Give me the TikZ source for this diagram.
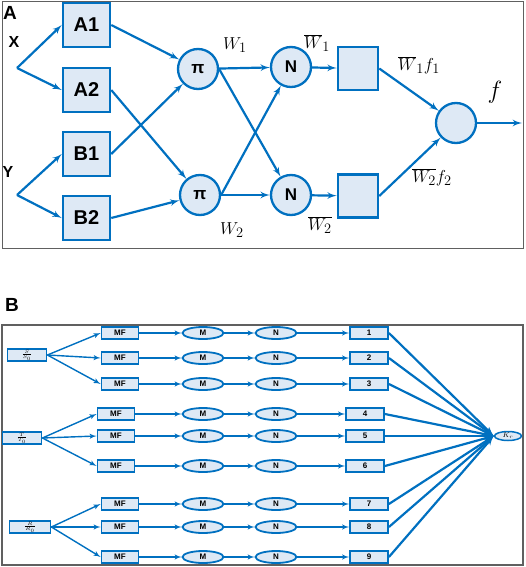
\documentclass[tikz,border=0pt]{standalone}
\usepackage{fontspec}
\setmainfont{Liberation Sans}
\usetikzlibrary{shapes,arrows}
\usetikzlibrary{positioning}
\definecolor{netblue}{RGB}{0,112,192}
\definecolor{cellfill}{RGB}{222,233,245}
\definecolor{framegray}{RGB}{96,96,96}
\tikzset{>=latex', minimum size=0pt, font=\fontsize{11}{11}\selectfont}
\tikzstyle{frame} = [draw=framegray, line width=1pt]
\tikzstyle{tag} = [inner sep=0pt, font=\fontsize{19}{19}\selectfont\bfseries]
\tikzstyle{var} = [inner sep=0pt, font=\fontsize{16}{16}\selectfont\bfseries]
\tikzstyle{block} = [draw=netblue, fill=cellfill, rectangle, line width=2.5pt, minimum width=47pt, minimum height=44pt, font=\fontsize{20}{20}\selectfont\bfseries]
\tikzstyle{prod} = [draw=netblue, fill=cellfill, circle, line width=2.3pt, minimum size=40pt, inner sep=0pt, font=\fontsize{17}{17}\selectfont\bfseries]
\tikzstyle{cons} = [draw=netblue, fill=cellfill, rectangle, line width=2.5pt, minimum width=40pt, minimum height=43pt]
\tikzstyle{weight} = [inner sep=0pt, font=\fontsize{19}{19}\selectfont]
\tikzstyle{link} = [draw=netblue, line width=2.2pt]
\tikzstyle{input} = [coordinate]
\tikzstyle{output} = [coordinate]
\tikzstyle{ratio} = [draw=netblue, fill=cellfill, rectangle, line width=1.8pt, minimum width=39pt, minimum height=12pt, inner sep=0pt, font=\fontsize{7}{7}\selectfont]
\tikzstyle{mf} = [draw=netblue, fill=cellfill, rectangle, line width=1.8pt, minimum width=37pt, minimum height=12pt, inner sep=0pt, font=\fontsize{8}{8}\selectfont\bfseries]
\tikzstyle{memb} = [draw=netblue, fill=cellfill, ellipse, line width=1.8pt, minimum width=41pt, minimum height=12pt, inner sep=0pt, font=\fontsize{8}{8}\selectfont\bfseries]
\tikzstyle{rule} = [draw=netblue, fill=cellfill, rectangle, line width=1.8pt, minimum width=38pt, minimum height=12pt, inner sep=0pt, font=\fontsize{8}{8}\selectfont\bfseries]
\tikzstyle{thin} = [draw=netblue, line width=1.4pt]

\begin{document}
\begin{tikzpicture}[x=1pt, y=-1pt]
    \useasboundingbox (0,0) rectangle (526,567);
    \draw [frame] (2,2) rectangle (523,248);
    \node [tag] (lab_a) at (10,13) {A};
    \node [var] (lab_x) at (14,42) {X};
    \node [var] (lab_y) at (8,172) {Y};
    \node [input] (x_in) at (17,68) {};
    \node [input] (y_in) at (17,195) {};
    \node [block] (a1) at (86.5,25) {A1};
    \node [block] (a2) at (86.5,90) {A2};
    \node [block] (b1) at (86.5,154) {B1};
    \node [block] (b2) at (86.5,218) {B2};
    \node [prod] (pi1) at (198,69) {π};
    \node [prod] (pi2) at (200,195) {π};
    \node [prod] (n1) at (291,67) {N};
    \node [prod] (n2) at (291,195) {N};
    \node [cons] (sq1) at (358,68.5) {};
    \node [cons] (sq2) at (358,196) {};
    \node [prod] (sum_f) at (456,123) {};
    \node [output] (f_out) at (522,123) {};
    \node [weight] (w1) at (235,45) {$W_1$};
    \node [weight] (w2) at (232,230) {$W_2$};
    \node [weight] (wn1) at (317,43) {$\overline{W}_1$};
    \node [weight] (wn2) at (320,225) {$\overline{W_2}$};
    \node [weight] (wf1) at (419,65) {$\overline{W}_1 f_1$};
    \node [weight] (wf2) at (432,177) {$\overline{W_2} f_2$};
    \node [weight, font=\fontsize{25}{25}\selectfont] (f_lab) at (495,92) {$f$};

    \draw [link,->] (x_in) -- (a1.west);
    \draw [link,->] (x_in) -- (a2.west);
    \draw [link,->] (y_in) -- (b1.west);
    \draw [link,->] (y_in) -- (b2.west);
    \draw [link,->] (a1.east) -- (pi1);
    \draw [link,->] (a2.east) -- (pi2);
    \draw [link,->] (b1.east) -- (pi1);
    \draw [link,->] (b2.east) -- (pi2);
    \draw [link,->] (pi1) -- (n1);
    \draw [link,->] (pi2) -- (n2);
    \draw [link,->] (pi1.east) -- (n2);
    \draw [link,->] (pi2.east) -- (n1);
    \draw [link,->] (n1) -- (sq1);
    \draw [link,->] (n2) -- (sq2);
    \draw [link,->] (sq1.east) -- (sum_f);
    \draw [link,->] (sq2.east) -- (sum_f);
    \draw [link,->] (sum_f) -- (f_out);

    \draw [frame, line width=1.3pt] (2,325) rectangle (523,565);
    \node [tag] (lab_b) at (12,305) {B};
    \node [ratio] (in1) at (27,355) {$\frac{S}{S_0}$};
    \node [ratio] (in2) at (22,438) {$\frac{T}{T_0}$};
    \node [ratio, minimum width=41pt] (in3) at (30,527) {$\frac{R}{R_0}$};
    \node [memb, minimum width=27pt, minimum height=9pt, line width=1.5pt, font=\fontsize{7}{7}\selectfont] (kr) at (508,436) {$K_r$};
    \foreach \i/\y/\xm/\src in {1/333/120/in1, 2/358/120/in1, 3/384/120/in1, 4/414/116/in2, 5/436/116/in2, 6/466/116/in2, 7/504/120/in3, 8/527/120/in3, 9/557/120/in3} {
        \node [mf] (mf\i) at (\xm,\y) {MF};
        \node [memb] (m\i) at (203,\y) {M};
        \node [memb] (nn\i) at (276,\y) {N};
        \node [rule] (r\i) at (\xm+249,\y) {\i};
        \draw [thin,->] (\src.east) -- (mf\i.west);
        \draw [thin,->] (mf\i) -- (m\i);
        \draw [thin,->] (m\i) -- (nn\i);
        \draw [thin,->] (nn\i) -- (r\i);
        \draw [link,->] (r\i.east) -- (kr.west);
    }
\end{tikzpicture}
\end{document}
